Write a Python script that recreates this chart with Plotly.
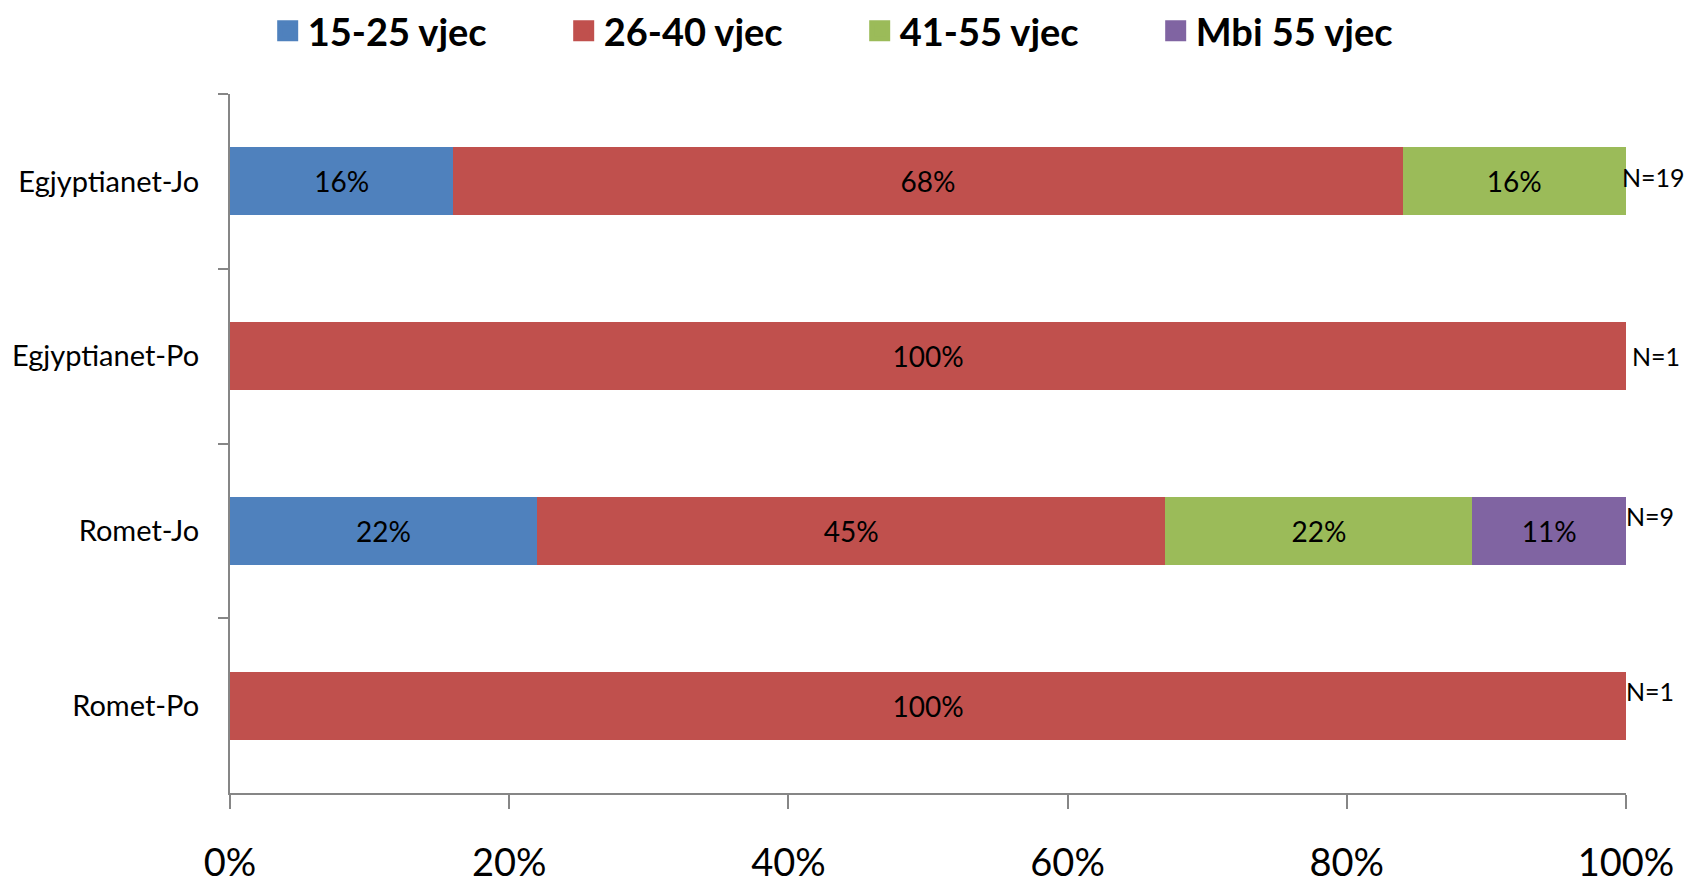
import plotly.graph_objects as go

categories = ["Egjyptianet-Jo", "Egjyptianet-Po", "Romet-Jo", "Romet-Po"]
series_names = ["15-25 vjec", "26-40 vjec", "41-55 vjec", "Mbi 55 vjec"]
vals_15_25 = [16, 0, 22, 0]
vals_26_40 = [68, 100, 45, 100]
vals_41_55 = [16, 0, 22, 0]
vals_55_plus = [0, 0, 11, 0]
n_labels = ["N=19", "N=1", "N=9", "N=1"]
x_ticks = [0, 20, 40, 60, 80, 100]

colors = ["#4F81BD", "#C0504D", "#9BBB59", "#8064A2"]
FONT = "Lato, 'Open Sans', sans-serif"

fig = go.Figure()
all_vals = [vals_15_25, vals_26_40, vals_41_55, vals_55_plus]
for name, vals, col in zip(series_names, all_vals, colors):
    fig.add_trace(go.Bar(
        y=categories, x=vals, name=name, orientation="h",
        marker=dict(color=col, line=dict(width=0)),
        text=[f"{v}%" if v > 0 else "" for v in vals],
        textposition="inside", insidetextanchor="middle", textangle=0,
        insidetextfont=dict(family=FONT, size=28, color="black"),
        showlegend=False, legendgroup=name, hoverinfo="x+name",
    ))
    # legend proxy with larger square symbol
    fig.add_trace(go.Scatter(
        x=[None], y=[None], mode="markers", name=name, legendgroup=name,
        marker=dict(symbol="square", size=16, color=col, line=dict(color=col, width=5)),
        showlegend=True,
    ))

# N labels to the right of the bars
n_xshift = [0, 10, 4, 4]
n_yshift = [4, 0, 15, 15]
for cat, lab, xs, ys in zip(categories, n_labels, n_xshift, n_yshift):
    fig.add_annotation(x=100, y=cat, xref="x", yref="y", text=lab, showarrow=False,
                       xanchor="left", yanchor="middle", xshift=xs - 6, yshift=ys,
                       font=dict(family=FONT, size=25, color="black"))

axis_gray = "#868686"
fig.update_layout(
    width=1686, height=878,
    barmode="stack", bargap=0.61,
    plot_bgcolor="white", paper_bgcolor="white",
    margin=dict(l=222, r=68, t=86, b=93, autoexpand=False),
    font=dict(family=FONT, color="black"),
    legend=dict(orientation="h", x=0.027, xanchor="left", y=1.0901, yanchor="middle",
                font=dict(family=FONT, size=38, color="black", weight="bold"),
                itemsizing="trace", entrywidth=251, entrywidthmode="pixels",
                traceorder="normal", bgcolor="rgba(0,0,0,0)"),
    xaxis=dict(range=[0, 100], tickvals=x_ticks, ticktext=[f"{v}%" for v in x_ticks],
               showgrid=False, zeroline=False, showline=True, linecolor=axis_gray, linewidth=2,
               ticks="outside", ticklen=14, tickcolor=axis_gray, tickwidth=2, automargin=False,
               tickfont=dict(family=FONT, size=38, color="black"), ticklabelstandoff=21),
    yaxis=dict(type="category", categoryorder="array", categoryarray=categories,
               autorange="reversed", showgrid=False, zeroline=False,
               showline=True, linecolor=axis_gray, linewidth=2,
               ticks="outside", ticklen=10, tickcolor=axis_gray, tickwidth=2,
               tickson="boundaries", automargin=False,
               tickfont=dict(family=FONT, size=29, color="black"), ticklabelstandoff=23),
)

fig.write_html("out.html")
